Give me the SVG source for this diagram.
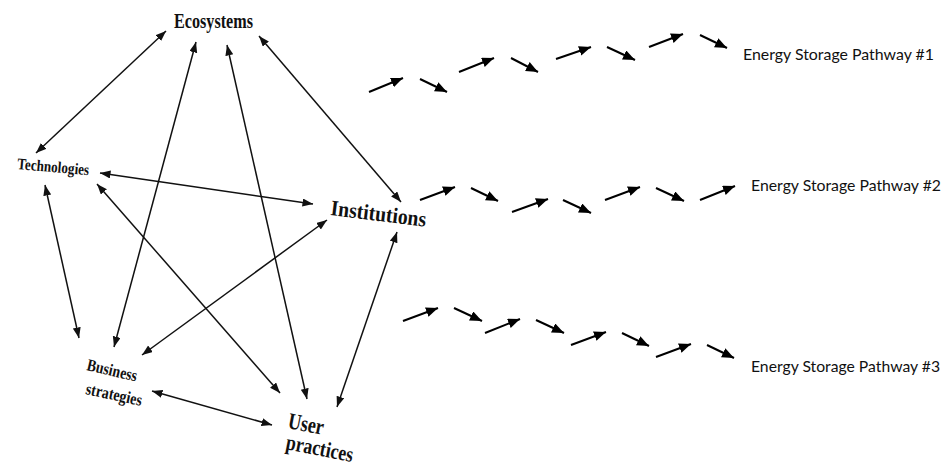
<svg xmlns="http://www.w3.org/2000/svg" width="944" height="472" viewBox="0 0 944 472">
  <defs>
    <marker id="tip" markerUnits="userSpaceOnUse" markerWidth="11" markerHeight="9" refX="10.5" refY="4" orient="auto-start-reverse">
      <path d="M0,0 L10.5,4 L0,8 z" fill="#111"/>
    </marker>
    <marker id="step" markerUnits="userSpaceOnUse" markerWidth="13" markerHeight="11" refX="12" refY="5" orient="auto">
      <path d="M0,0 L12,5 L0,10 z" fill="#000"/>
    </marker>
  </defs>
  <style>
    .node text { font-family: "Liberation Serif", "Times New Roman", serif; font-weight: bold; fill: #111; }
    .link { stroke: #111; stroke-width: 1.5; fill: none; marker-start: url(#tip); marker-end: url(#tip); }
    .step { stroke: #000; stroke-width: 2; fill: none; marker-end: url(#step); }
    .label { font-family: Lato, "Open Sans", sans-serif; font-size: 16px; fill: #111; }
  </style>

  <rect width="944" height="472" fill="#fff"/>

  <!-- relationship network -->
  <g id="connectors">
    <line class="link" x1="166" y1="31" x2="36" y2="153"/>
    <line class="link" x1="196" y1="42" x2="114" y2="347"/>
    <line class="link" x1="227" y1="45" x2="307" y2="399"/>
    <line class="link" x1="259" y1="36" x2="401" y2="202"/>
    <line class="link" x1="100" y1="173" x2="313" y2="204"/>
    <line class="link" x1="45" y1="185" x2="79" y2="338"/>
    <line class="link" x1="97" y1="184" x2="280" y2="393"/>
    <line class="link" x1="327" y1="220" x2="142" y2="355"/>
    <line class="link" x1="397" y1="232" x2="337" y2="407"/>
    <line class="link" x1="152" y1="391" x2="272" y2="425"/>
  </g>

  <g id="ecosystems" class="node">
    <text x="174" y="28" font-size="20" textLength="79" lengthAdjust="spacingAndGlyphs">Ecosystems</text>
  </g>
  <g id="technologies" class="node">
    <text x="17" y="169" font-size="16" textLength="72" lengthAdjust="spacingAndGlyphs" transform="rotate(5 17 169)">Technologies</text>
  </g>
  <g id="institutions" class="node">
    <text x="330" y="215" font-size="22" textLength="96" lengthAdjust="spacingAndGlyphs" transform="rotate(7 330 215)">Institutions</text>
  </g>
  <g id="business-strategies" class="node">
    <text x="86" y="370" font-size="17" textLength="51" lengthAdjust="spacingAndGlyphs" transform="rotate(13 86 370)">Business</text>
    <text x="85" y="394" font-size="17" textLength="57" lengthAdjust="spacingAndGlyphs" transform="rotate(12 85 394)">strategies</text>
  </g>
  <g id="user-practices" class="node">
    <text x="287" y="428" font-size="23" textLength="36" lengthAdjust="spacingAndGlyphs" transform="rotate(11 287 428)">User</text>
    <text x="285" y="449" font-size="22" textLength="68" lengthAdjust="spacingAndGlyphs" transform="rotate(11 285 449)">practices</text>
  </g>

  <!-- pathway 1 -->
  <g id="pathway-1">
    <line class="step" x1="369" y1="92" x2="403" y2="78"/>
    <line class="step" x1="420" y1="79" x2="447" y2="92"/>
    <line class="step" x1="459" y1="72" x2="494" y2="58"/>
    <line class="step" x1="511" y1="58" x2="538" y2="72"/>
    <line class="step" x1="556" y1="59" x2="591" y2="47"/>
    <line class="step" x1="607" y1="47" x2="635" y2="60"/>
    <line class="step" x1="649" y1="47" x2="683" y2="34"/>
    <line class="step" x1="700" y1="35" x2="727" y2="48"/>
    <text class="label" x="743" y="60" textLength="191" lengthAdjust="spacingAndGlyphs">Energy Storage Pathway #1</text>
  </g>

  <!-- pathway 2 -->
  <g id="pathway-2">
    <line class="step" x1="420" y1="200" x2="455" y2="187"/>
    <line class="step" x1="471" y1="188" x2="498" y2="201"/>
    <line class="step" x1="512" y1="212" x2="548" y2="199"/>
    <line class="step" x1="563" y1="200" x2="591" y2="213"/>
    <line class="step" x1="605" y1="200" x2="640" y2="187"/>
    <line class="step" x1="656" y1="188" x2="684" y2="201"/>
    <line class="step" x1="700" y1="200" x2="735" y2="186"/>
    <text class="label" x="751" y="191" textLength="190" lengthAdjust="spacingAndGlyphs">Energy Storage Pathway #2</text>
  </g>

  <!-- pathway 3 -->
  <g id="pathway-3">
    <line class="step" x1="403" y1="321" x2="438" y2="308"/>
    <line class="step" x1="454" y1="308" x2="482" y2="321"/>
    <line class="step" x1="485" y1="333" x2="520" y2="319"/>
    <line class="step" x1="536" y1="320" x2="564" y2="333"/>
    <line class="step" x1="571" y1="345" x2="606" y2="332"/>
    <line class="step" x1="622" y1="333" x2="649" y2="346"/>
    <line class="step" x1="656" y1="357" x2="691" y2="344"/>
    <line class="step" x1="707" y1="345" x2="734" y2="358"/>
    <text class="label" x="751" y="372" textLength="189" lengthAdjust="spacingAndGlyphs">Energy Storage Pathway #3</text>
  </g>
</svg>
